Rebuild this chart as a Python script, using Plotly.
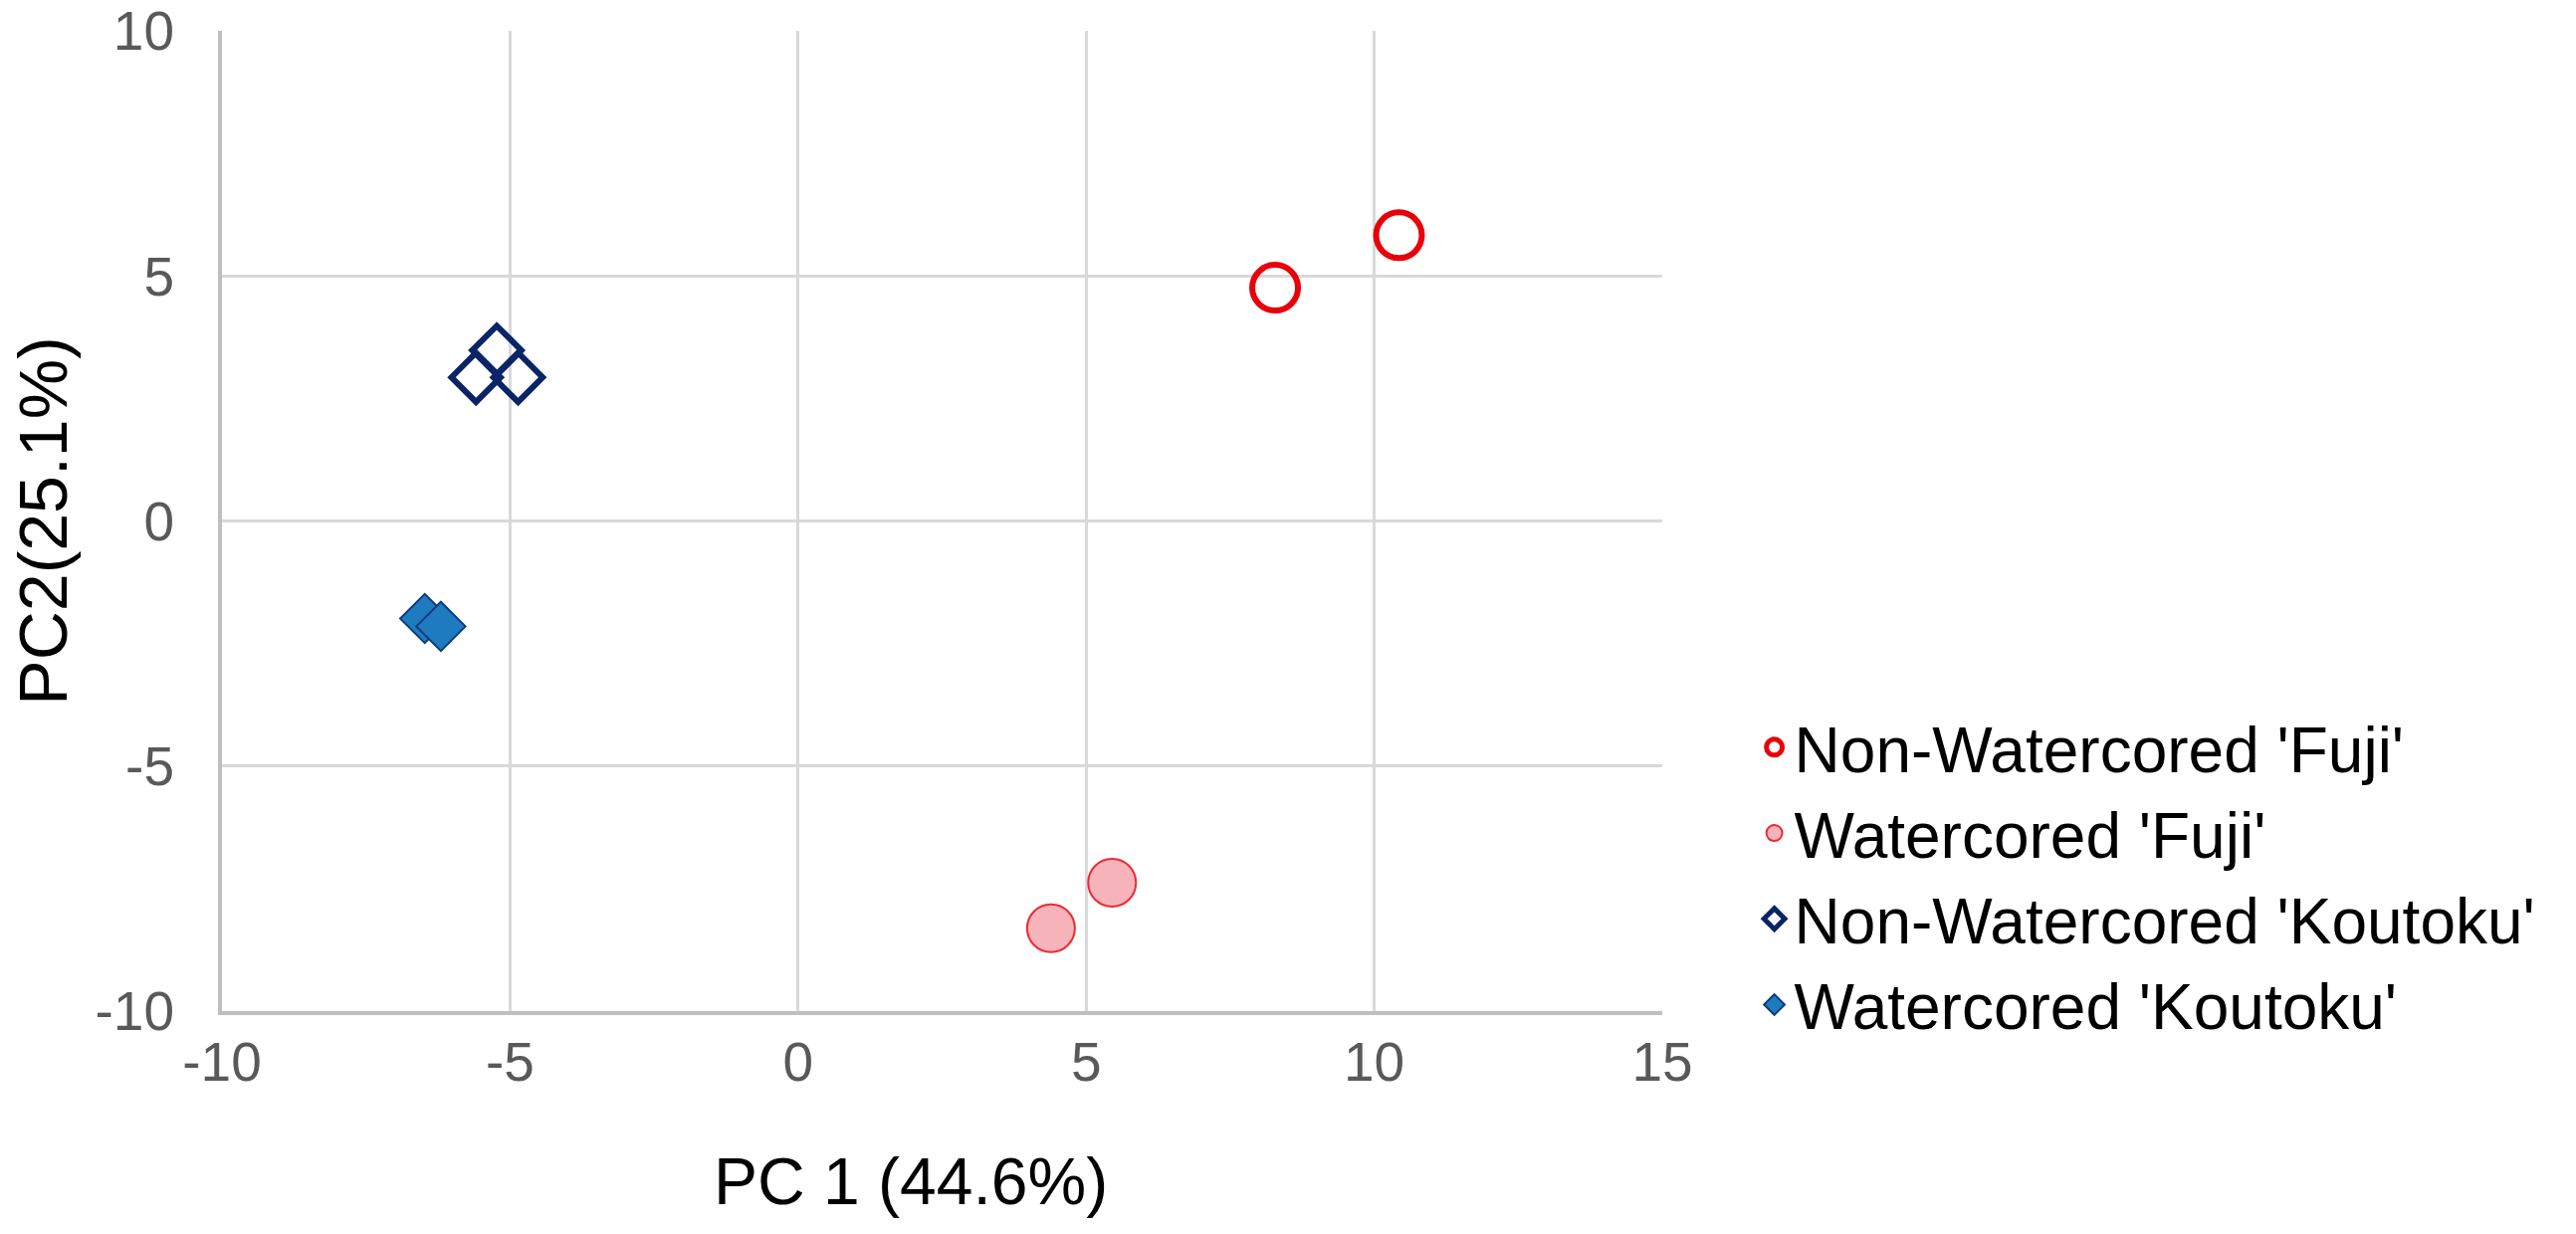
import plotly.graph_objects as go

# PCA scores
nwc_fuji_x = [8.28, 10.43]
nwc_fuji_y = [4.76, 5.83]
wc_fuji_x = [4.39, 5.45]
wc_fuji_y = [-8.31, -7.38]
nwc_koutoku_x = [-5.23, -5.59, -4.86]
nwc_koutoku_y = [3.48, 2.93, 2.93]
wc_koutoku_x = [-6.48, -6.20]
wc_koutoku_y = [-1.99, -2.15]

x_ticks = [-10, -5, 0, 5, 10, 15]
y_ticks = [-10, -5, 0, 5, 10]

FONT = "Liberation Sans, Arial, sans-serif"

fig = go.Figure()

fig.add_trace(go.Scatter(
    x=nwc_fuji_x, y=nwc_fuji_y, mode="markers",
    name="Non-Watercored 'Fuji'",
    marker=dict(symbol="circle-open", size=46, color="#E8000B",
                line=dict(width=6, color="#E8000B")),
))
fig.add_trace(go.Scatter(
    x=wc_fuji_x, y=wc_fuji_y, mode="markers",
    name="Watercored 'Fuji'",
    marker=dict(symbol="circle", size=48, color="#F6B3BA",
                line=dict(width=2, color="#EC2A33")),
))
fig.add_trace(go.Scatter(
    x=nwc_koutoku_x, y=nwc_koutoku_y, mode="markers",
    name="Non-Watercored 'Koutoku'",
    marker=dict(symbol="diamond-open", size=38, color="#0A2466",
                line=dict(width=6, color="#0A2466")),
))
fig.add_trace(go.Scatter(
    x=wc_koutoku_x, y=wc_koutoku_y, mode="markers",
    name="Watercored 'Koutoku'",
    marker=dict(symbol="diamond", size=38, color="#1F7BC0",
                line=dict(width=2, color="#0B3C7D")),
))

fig.update_layout(
    width=2588, height=1240,
    margin=dict(l=223, r=918, t=31, b=224),
    paper_bgcolor="white", plot_bgcolor="white",
    font=dict(family=FONT, color="#000000"),
    showlegend=True,
    legend=dict(
        x=1.064, y=0.318, xanchor="left", yanchor="top",
        font=dict(size=64, color="#000000", family=FONT),
        itemsizing="trace", tracegroupgap=0, bgcolor="rgba(0,0,0,0)",
    ),
    annotations=[
        dict(text="PC 1 (44.6%)", xref="paper", yref="paper", x=0.478, y=-0.174,
             xanchor="center", yanchor="middle", showarrow=False,
             font=dict(size=66, color="#000000", family=FONT)),
        dict(text="PC2(25.1%)", xref="paper", yref="paper", x=-0.125, y=0.5,
             xanchor="center", yanchor="middle", showarrow=False, textangle=-90,
             font=dict(size=68, color="#000000", family=FONT)),
    ],
)

fig.update_xaxes(
    range=[-10, 15], tickvals=x_ticks, ticktext=[str(v) for v in x_ticks],
    showgrid=True, gridcolor="#D9D9D9", gridwidth=3,
    zeroline=False, showline=True, linecolor="#BFBFBF", linewidth=4,
    tickfont=dict(size=55, color="#595959", family=FONT),
    ticklabelstandoff=0, automargin=False,
)
fig.update_yaxes(
    range=[-10, 10], tickvals=y_ticks, ticktext=[str(v) for v in y_ticks],
    showgrid=True, gridcolor="#D9D9D9", gridwidth=3,
    zeroline=False, showline=True, linecolor="#BFBFBF", linewidth=4,
    tickfont=dict(size=55, color="#595959", family=FONT),
    ticklabelstandoff=33, automargin=False,
)

# drop the browser's default 8px body margin so the figure sits at the page origin
fig.write_html("out.html", config={"displayModeBar": False},
               post_script="document.body.style.margin = '0';")
